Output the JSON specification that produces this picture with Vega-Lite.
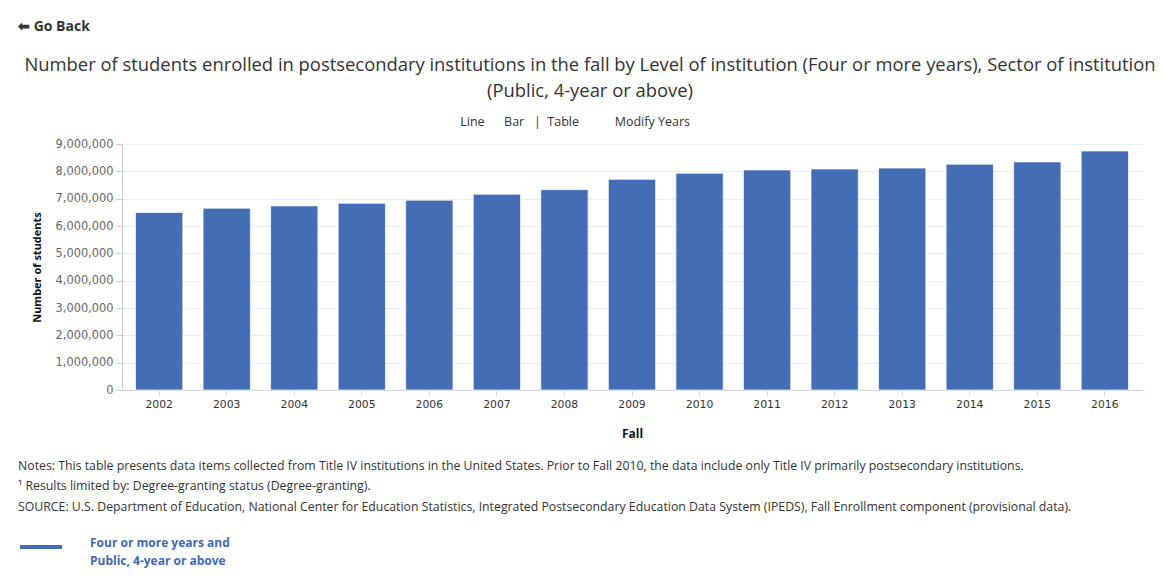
{
  "$schema": "https://vega.github.io/schema/vega-lite/v6.json",
  "background": "white",
  "padding": {"left": 18, "top": 20, "right": 5, "bottom": 5},
  "title": {
    "text": "⬅ Go Back",
    "anchor": "start",
    "font": "Open Sans",
    "fontSize": 14,
    "fontWeight": "bold",
    "color": "#333333",
    "offset": 22
  },
  "vconcat": [
    {
      "width": 1020,
      "height": 246,
      "title": {
        "text": [
          "Number of students enrolled in postsecondary institutions in the fall by Level of institution (Four or more years), Sector of institution",
          "(Public, 4-year or above)"
        ],
        "subtitle": "Line\u00a0\u00a0\u00a0\u00a0\u00a0\u00a0Bar\u00a0\u00a0\u00a0|\u00a0\u00a0Table\u00a0\u00a0\u00a0\u00a0\u00a0\u00a0\u00a0\u00a0\u00a0\u00a0\u00a0Modify Years\u00a0\u00a0\u00a0\u2800\u2800",
        "anchor": "middle",
        "dx": -42,
        "font": "Open Sans",
        "fontSize": 18.4,
        "fontWeight": "normal",
        "color": "#333333",
        "lineHeight": 26,
        "subtitleFont": "Open Sans",
        "subtitleFontSize": 12.5,
        "subtitleColor": "#333333",
        "subtitlePadding": 15,
        "offset": 10
      },
      "data": {
        "values": [
          {"Fall": "2002", "students": 6495000, "series": "Four or more years and Public, 4-year or above"},
          {"Fall": "2003", "students": 6650000, "series": "Four or more years and Public, 4-year or above"},
          {"Fall": "2004", "students": 6735000, "series": "Four or more years and Public, 4-year or above"},
          {"Fall": "2005", "students": 6830000, "series": "Four or more years and Public, 4-year or above"},
          {"Fall": "2006", "students": 6945000, "series": "Four or more years and Public, 4-year or above"},
          {"Fall": "2007", "students": 7160000, "series": "Four or more years and Public, 4-year or above"},
          {"Fall": "2008", "students": 7330000, "series": "Four or more years and Public, 4-year or above"},
          {"Fall": "2009", "students": 7710000, "series": "Four or more years and Public, 4-year or above"},
          {"Fall": "2010", "students": 7930000, "series": "Four or more years and Public, 4-year or above"},
          {"Fall": "2011", "students": 8050000, "series": "Four or more years and Public, 4-year or above"},
          {"Fall": "2012", "students": 8085000, "series": "Four or more years and Public, 4-year or above"},
          {"Fall": "2013", "students": 8120000, "series": "Four or more years and Public, 4-year or above"},
          {"Fall": "2014", "students": 8260000, "series": "Four or more years and Public, 4-year or above"},
          {"Fall": "2015", "students": 8345000, "series": "Four or more years and Public, 4-year or above"},
          {"Fall": "2016", "students": 8745000, "series": "Four or more years and Public, 4-year or above"}
        ]
      },
      "mark": {"type": "bar", "stroke": "white", "strokeWidth": 1, "strokeOpacity": 0.7},
      "encoding": {
        "x": {
          "field": "Fall",
          "type": "ordinal",
          "scale": {"paddingInner": 0.3, "paddingOuter": 0.2},
          "axis": {
            "title": "Fall",
            "titleFont": "Open Sans",
            "titleFontSize": 12,
            "titleFontWeight": "bold",
            "titleColor": "#111111",
            "titlePadding": 20,
            "labelAngle": 0,
            "labelFont": "DejaVu Sans",
            "labelFontSize": 10.8,
            "labelColor": "#333333",
            "labelPadding": 3,
            "tickSize": 5,
            "tickColor": "#ccd6eb",
            "domainColor": "#ccd6eb",
            "grid": false
          }
        },
        "y": {
          "field": "students",
          "type": "quantitative",
          "scale": {"domain": [0, 9000000], "nice": false},
          "axis": {
            "title": "Number of students",
            "titleFont": "Open Sans",
            "titleFontSize": 11,
            "titleFontWeight": "bold",
            "titleColor": "#111111",
            "titlePadding": 13,
            "format": ",.0f",
            "values": [0, 1000000, 2000000, 3000000, 4000000, 5000000, 6000000, 7000000, 8000000, 9000000],
            "labelFont": "DejaVu Sans",
            "labelFontSize": 11.4,
            "labelColor": "#666666",
            "labelPadding": 3,
            "tickSize": 6,
            "tickColor": "#cccccc",
            "domain": true,
            "domainColor": "#cccccc",
            "grid": true,
            "gridColor": "#ededed"
          }
        },
        "color": {
          "field": "series",
          "type": "nominal",
          "scale": {"range": ["#436db5"]},
          "legend": {
            "orient": "none",
            "legendX": -104,
            "legendY": 316,
            "title": [
              "Notes: This table presents data items collected from Title IV institutions in the United States. Prior to Fall 2010, the data include only Title IV primarily postsecondary institutions.",
              "¹ Results limited by: Degree-granting status (Degree-granting).",
              "SOURCE: U.S. Department of Education, National Center for Education Statistics, Integrated Postsecondary Education Data System (IPEDS), Fall Enrollment component (provisional data)."
            ],
            "titleFont": "Open Sans",
            "titleFontSize": 12.3,
            "titleFontWeight": "normal",
            "titleColor": "#333333",
            "titleLineHeight": 20.3,
            "titleLimit": 1200,
            "titlePadding": 11,
            "symbolType": "stroke",
            "symbolSize": 1764,
            "symbolStrokeWidth": 4,
            "symbolStrokeColor": "#436db5",
            "labelExpr": "['Four or more years and', 'Public, 4-year or above']",
            "labelFont": "Open Sans",
            "labelFontSize": 12,
            "labelFontWeight": "bold",
            "labelColor": "#3d69b8",
            "labelOffset": 26,
            "labelLimit": 0,
            "labelBaseline": "alphabetic",
            "padding": 0
          }
        }
      }
    }
  ],
  "config": {
    "view": {"stroke": null},
    "font": "Open Sans",
    "style": {"guide-label": {"lineHeight": 18}}
  }
}
